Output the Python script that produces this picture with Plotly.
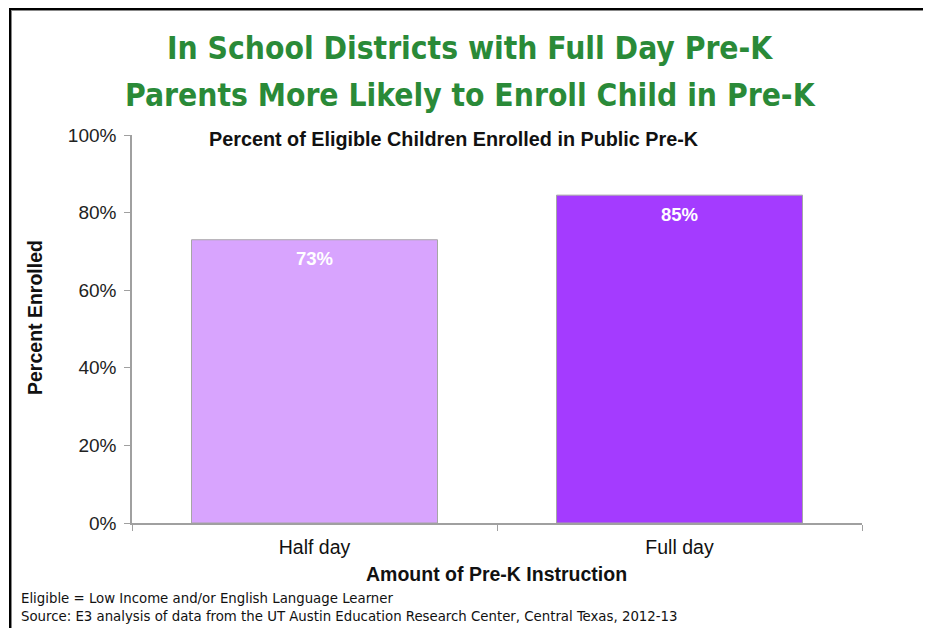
import plotly.graph_objects as go

categories = ["Half day", "Full day"]
values = [0.73, 0.845]
value_labels = ["73%", "85%"]
bar_colors = ["#D8A4FE", "#A43BFF"]

title_lines = ["In School Districts with Full Day Pre-K",
               "Parents More Likely to Enroll Child in Pre-K"]
subtitle = "Percent of Eligible Children Enrolled in Public Pre-K"
y_title = "Percent Enrolled"
x_title = "Amount of Pre-K Instruction"
footnotes = ["Eligible = Low Income and/or English Language Learner",
             "Source: E3 analysis of data from the UT Austin Education Research Center, Central Texas, 2012-13"]
y_ticks = [0, 0.2, 0.4, 0.6, 0.8, 1.0]
y_ticklabels = ["0%", "20%", "40%", "60%", "80%", "100%"]

OFF = 8  # page body margin
W, H = 931 - OFF, 628 - OFF
L, R, T, B = 132 - OFF, 69, 135 - OFF, 105
pw, ph = W - L - R, H - T - B

def px_x(p):
    return (p - OFF - L) / pw

def px_y(p):
    return (H - B - (p - OFF)) / ph

COND = "DejaVu Sans Condensed, Roboto Condensed, Liberation Sans, Arial"
SANS = "Liberation Sans, Arial"

fig = go.Figure()
fig.add_trace(go.Bar(
    x=categories, y=values,
    marker=dict(color=bar_colors, line=dict(color="#A6A6A6", width=1)),
    hoverinfo="skip",
))

annotations = []
for c, v, lab in zip(categories, values, value_labels):
    annotations.append(dict(x=c, y=v, text=f"<b>{lab}</b>", showarrow=False,
                            yanchor="middle", yshift=-19,
                            font=dict(family=SANS, size=18.5, color="white")))

for i, line in enumerate(title_lines):
    annotations.append(dict(xref="paper", yref="paper", x=px_x(470), y=px_y(48 + 47 * i),
                            text="<b>" + line + "</b>",
                            showarrow=False, xanchor="center", yanchor="middle",
                            font=dict(family=COND, size=31.5, color="#2A8A38")))
annotations.append(dict(xref="paper", yref="paper", x=px_x(454), y=px_y(139),
                        text="<b>" + subtitle + "</b>", showarrow=False,
                        xanchor="center", yanchor="middle",
                        font=dict(family=SANS, size=19.8, color="#111")))
annotations.append(dict(xref="paper", yref="paper", x=px_x(35), y=px_y(318),
                        text="<b>" + y_title + "</b>", showarrow=False, textangle=-90,
                        xanchor="center", yanchor="middle",
                        font=dict(family=SANS, size=19.5, color="#111")))
annotations.append(dict(xref="paper", yref="paper", x=px_x(496), y=px_y(574),
                        text="<b>" + x_title + "</b>", showarrow=False,
                        xanchor="center", yanchor="middle",
                        font=dict(family=SANS, size=19.5, color="#111")))
for i, fn in enumerate(footnotes):
    annotations.append(dict(xref="paper", yref="paper", x=px_x(19), y=px_y(597 + 18 * i),
                            text=fn, showarrow=False, xanchor="left", yanchor="middle",
                            font=dict(family=COND, size=14.8, color="#111")))

shapes = [
    dict(type="rect", xref="paper", yref="paper",
         x0=px_x(11), x1=px_x(927), y0=px_y(660), y1=px_y(10),
         line=dict(color="#888888", width=2)),
    dict(type="rect", xref="paper", yref="paper",
         x0=px_x(10), x1=px_x(926), y0=px_y(660), y1=px_y(9),
         line=dict(color="#000000", width=2)),
]

fig.update_layout(
    width=W, height=H,
    margin=dict(l=L, r=R, t=T, b=B, pad=0),
    paper_bgcolor="white", plot_bgcolor="white",
    showlegend=False,
    bargap=0.326,
    annotations=annotations,
    shapes=shapes,
    xaxis=dict(
        showline=True, linecolor="#A0A0A0", linewidth=1.5,
        ticks="outside", tickson="boundaries", ticklen=6, tickcolor="#A0A0A0",
        ticklabelstandoff=6,
        tickfont=dict(family=SANS, size=19.5, color="#111"),
        showgrid=False, zeroline=False, fixedrange=True,
    ),
    yaxis=dict(
        range=[0, 1.0], tickvals=y_ticks, ticktext=y_ticklabels,
        showline=True, linecolor="#A0A0A0", linewidth=1.5,
        ticks="outside", ticklen=6, tickcolor="#A0A0A0",
        ticklabelstandoff=4,
        tickfont=dict(family=SANS, size=19, color="#222"),
        showgrid=False, zeroline=False, fixedrange=True,
    ),
)

fig.write_html("out.html", config={"displayModeBar": False})
